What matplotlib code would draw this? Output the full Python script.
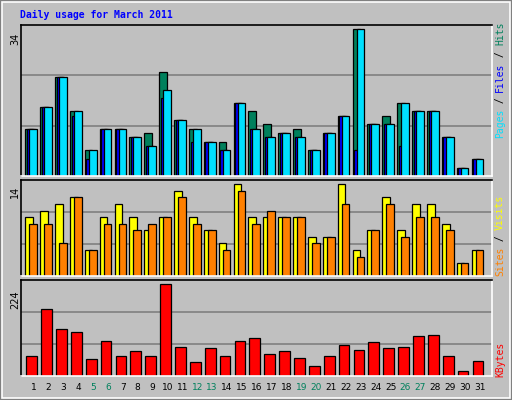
import matplotlib
matplotlib.use("Agg")
import matplotlib.pyplot as plt
from matplotlib.patches import Rectangle
import numpy as np

days = np.arange(1, 32)
weekend_days = [5, 6, 12, 13, 19, 20, 26, 27]

hits = [11, 16, 23, 15, 6, 11, 11, 9, 10, 24, 13, 11, 8, 8, 17, 15,
        12, 10, 11, 6, 10, 14, 34, 12, 14, 17, 15, 15, 9, 2, 4]
files = [11, 16, 23, 14, 4, 11, 11, 9, 7, 18, 13, 8, 8, 6, 17, 11,
         9, 10, 9, 6, 10, 14, 6, 12, 12, 7, 15, 15, 9, 2, 4]
pages = [11, 16, 23, 15, 6, 11, 11, 9, 7, 20, 13, 11, 8, 6, 17, 11,
         9, 10, 9, 6, 10, 14, 34, 12, 12, 17, 15, 15, 9, 2, 4]
visits = [9, 10, 11, 12, 4, 9, 11, 9, 7, 9, 13, 9, 7, 5, 14, 9,
          9, 9, 9, 6, 6, 14, 4, 7, 12, 7, 11, 11, 8, 2, 4]
sites = [8, 8, 5, 12, 4, 8, 8, 7, 8, 9, 12, 8, 7, 4, 13, 8,
         10, 9, 9, 5, 6, 11, 3, 7, 11, 6, 9, 9, 7, 2, 4]
kbytes = [48, 163, 114, 107, 41, 85, 48, 60, 48, 224, 70, 33, 68, 48, 85, 92,
          53, 60, 43, 24, 50, 75, 63, 82, 68, 70, 97, 99, 48, 11, 36]

BG = "#c0c0c0"
C_HITS, C_FILES, C_PAGES = "#00805c", "#0000ff", "#00e0ff"
C_VISITS, C_SITES, C_KB = "#ffff00", "#ff8000", "#ff0000"
MONO = "DejaVu Sans Mono"

fig = plt.figure(figsize=(5.12, 4.0), dpi=100, facecolor=BG)

# outer bevel
fig.patches.append(Rectangle((0, 0), 1, 1, transform=fig.transFigure, fill=False,
                             edgecolor="#808080", lw=3))
fig.patches.append(Rectangle((0.004, 0.006), 0.992, 0.988, transform=fig.transFigure,
                             fill=False, edgecolor="white", lw=1.2))

X0, W = 21 / 512, 470.5 / 512
XLIM = (0.155, 31.78)


def make_ax(top_px, bot_px, ymax):
    ax = fig.add_axes([X0, 1 - bot_px / 400, W, (bot_px - top_px) / 400])
    ax.set_facecolor(BG)
    ax.set_xlim(*XLIM)
    ax.set_ylim(0, ymax)
    for f in (1 / 3, 2 / 3):
        ax.axhline(ymax * f, color="#808080", lw=1.2, zorder=0)
    ax.set_xticks([])
    ax.set_yticks([])
    for s in ax.spines.values():
        s.set_color("black")
        s.set_linewidth(1.2)
    ax.spines["bottom"].set_color("white")
    ax.spines["right"].set_color("white")
    return ax


def bars(ax, vals, off, width, color):
    ax.bar(days + off, vals, width=width, align="edge", color=color,
           edgecolor="black", linewidth=0.9)


ax1 = make_ax(24.5, 176.3, 35.0)
bars(ax1, hits, -0.56, 0.52, C_HITS)
bars(ax1, files, -0.45, 0.52, C_FILES)
bars(ax1, pages, -0.29, 0.52, C_PAGES)

ax2 = make_ax(180, 276.3, 14.65)
bars(ax2, visits, -0.56, 0.52, C_VISITS)
bars(ax2, sites, -0.29, 0.52, C_SITES)

ax3 = make_ax(280.3, 376, 233.8)
bars(ax3, kbytes, -0.49, 0.72, C_KB)

# max labels on the left
for y_px, lab in [(33, "34"), (186, "14"), (290, "224")]:
    fig.text(15 / 512, 1 - y_px / 400, lab, rotation=90, ha="center", va="top",
             fontsize=7, family="DejaVu Sans")

# day labels
for d in days:
    x = X0 + W * (d - XLIM[0]) / (XLIM[1] - XLIM[0])
    fig.text(x, 1 - 388 / 400, str(d), ha="center", va="center", fontsize=6.5,
             color="#00805c" if d in weekend_days else "black")

fig.text(20 / 512, 1 - 15 / 400, "Daily usage for March 2011", ha="left", va="center",
         fontsize=7, family=MONO, fontweight="bold", color="#0000ff")

# right side legends, stacked bottom to top
CH = 5.8


def stacked(bottom_px, parts):
    y = bottom_px
    for txt, col in parts:
        fig.text(500 / 512, 1 - y / 400, txt, rotation=90, ha="center", va="bottom",
                 fontsize=7, family=MONO, color=col)
        y -= CH * len(txt)


stacked(138, [("Pages", C_PAGES), (" / ", "black"), ("Files", C_FILES),
              (" / ", "black"), ("Hits", C_HITS)])
stacked(276, [("Sites", C_SITES), (" / ", "black"), ("Visits", C_VISITS)])
stacked(377, [("KBytes", C_KB)])

fig.savefig("out.png", dpi=100, facecolor=BG)
